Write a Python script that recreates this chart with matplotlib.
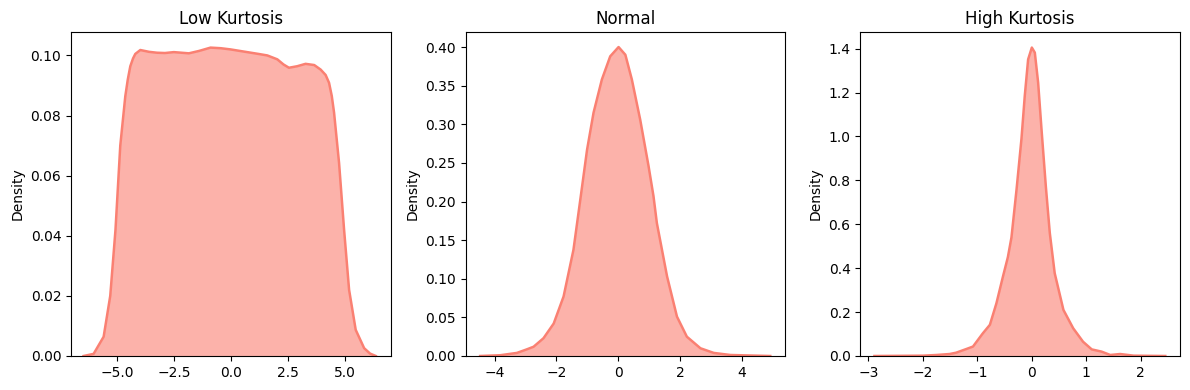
import numpy as np
import matplotlib.pyplot as plt

# density curves (x, density)
low_x = [-6.47, -6.03, -5.59, -5.30, -5.07, -4.86, -4.64, -4.53, -4.42, -4.30, -4.20, -3.98, -3.60, -3.25,
         -2.90, -2.51, -1.85, -1.40, -0.90, -0.45, -0.02, 0.71, 1.20, 1.59, 2.03, 2.30, 2.54,
         2.90, 3.27, 3.65, 3.93, 4.15, 4.30, 4.42, 4.52, 4.74, 4.96, 5.18, 5.47, 5.84, 6.10, 6.35]
low_y = [0.0, 0.0007, 0.0064, 0.020, 0.042, 0.070, 0.0864, 0.0920, 0.0964, 0.0990, 0.1005, 0.1018, 0.1012, 0.1009,
         0.1008, 0.1011, 0.1007, 0.1015, 0.1026, 0.1024, 0.1020, 0.1011, 0.1005, 0.1000, 0.0987, 0.0970, 0.0959,
         0.0964, 0.0972, 0.0968, 0.0953, 0.0935, 0.0909, 0.0865, 0.081, 0.0642, 0.042, 0.022, 0.0087, 0.0026, 0.0008, 0.0]

norm_x = [-4.47, -3.82, -3.28, -2.96, -2.74, -2.42, -2.09, -1.77, -1.45, -1.23, -1.01, -0.80,
          -0.53, -0.26, 0.01, 0.23, 0.44, 0.71, 0.98, 1.14, 1.25, 1.58, 1.90, 2.22, 2.66,
          3.09, 3.63, 4.92]
norm_y = [0.0, 0.001, 0.004, 0.0086, 0.012, 0.023, 0.042, 0.077, 0.1375, 0.202, 0.267, 0.315,
          0.358, 0.388, 0.400, 0.390, 0.358, 0.306, 0.246, 0.207, 0.172, 0.103, 0.051, 0.025, 0.010,
          0.004, 0.0013, 0.0]

high_x = [-2.89, -2.0, -1.75, -1.51, -1.39, -1.20, -1.08, -0.99, -0.90, -0.77, -0.65, -0.53,
          -0.44, -0.374, -0.28, -0.19, -0.13, -0.068, 0.0, 0.055, 0.116, 0.178, 0.258, 0.33,
          0.42, 0.58, 0.76, 0.94, 1.10, 1.28, 1.44, 1.62, 1.87, 2.45]
high_y = [0.0, 0.0015, 0.0046, 0.009, 0.015, 0.032, 0.043, 0.073, 0.103, 0.142, 0.240, 0.362,
          0.45, 0.54, 0.76, 0.99, 1.184, 1.351, 1.405, 1.382, 1.245, 1.032, 0.77, 0.56,
          0.377, 0.21, 0.126, 0.065, 0.030, 0.020, 0.0046, 0.009, 0.0015, 0.0]

titles = ["Low Kurtosis", "Normal", "High Kurtosis"]
curves = [(low_x, low_y), (norm_x, norm_y), (high_x, high_y)]
xlims = [(-7.02, 7.01), (-4.94, 5.41), (-3.15, 2.72)]
ylims = [(0, 0.1078), (0, 0.4195), (0, 1.476)]

fig, axes = plt.subplots(1, 3, figsize=(11.9, 3.9), dpi=100)
for ax, (xs, ys), title, xl, yl in zip(axes, curves, titles, xlims, ylims):
    ax.fill_between(xs, ys, color="salmon", alpha=0.6, linewidth=0)
    ax.plot(xs, ys, color="salmon", linewidth=1.8)
    ax.set_title(title)
    ax.set_ylabel("Density")
    ax.set_xlim(xl)
    ax.set_ylim(yl)

plt.subplots_adjust(left=0.0597, right=0.9916, top=0.918, bottom=0.0872, wspace=0.234)
plt.savefig("out.png")
